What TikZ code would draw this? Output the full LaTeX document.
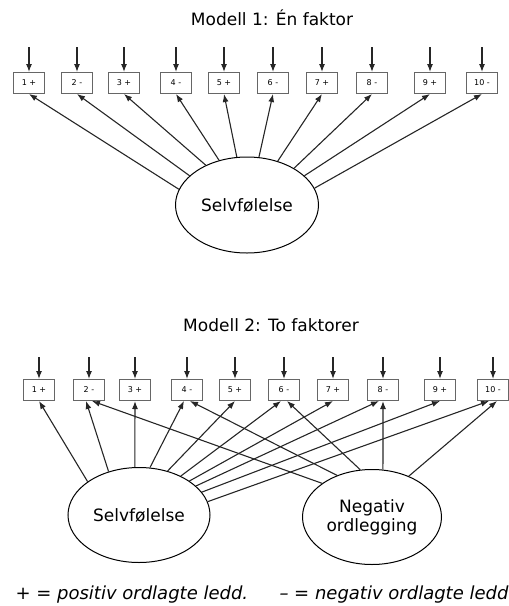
\documentclass[tikz,border=0pt]{standalone}
\usepackage{fontspec}
\setmainfont{DejaVu Sans}
\usetikzlibrary{arrows.meta,shapes.geometric}

\begin{document}
\begin{tikzpicture}[x=1pt,y=-1pt,
		item/.style={rectangle, draw=black!60, line width=1pt, minimum width=31pt, minimum height=21pt, inner sep=0pt, font=\fontsize{8}{9}\selectfont},
		latent/.style={draw, ellipse, line width=1pt, inner sep=0pt, align=center, font=\fontsize{17}{19}\selectfont},
		load/.style={-{Latex[length=8pt,width=6pt]}, line width=1.1pt, draw=black!85},
		heading/.style={font=\fontsize{17}{19}\selectfont}]
			\useasboundingbox (0,0) rectangle (509,606);

			% modell 1
			\node[heading] (t1) at (272,18) {Modell 1: Én faktor};

			\node[item] (a1) at (29,83) {1 +};
			\node[item] (a2) at (77,83) {2 -};
			\node[item] (a3) at (124,83) {3 +};
			\node[item] (a4) at (176,83) {4 -};
			\node[item] (a5) at (224,83) {5 +};
			\node[item] (a6) at (273,83) {6 -};
			\node[item] (a7) at (322,83) {7 +};
			\node[item] (a8) at (372,83) {8 -};
			\node[item] (a9) at (430,83) {9 +};
			\node[item] (a10) at (482,83) {10 -};

			\node[latent, minimum width=143pt, minimum height=96pt] (self1) at (247,205) {Selvfølelse};

			% error arrows
			\coordinate (ea1) at (29,47);
			\coordinate (ea2) at (77,47);
			\coordinate (ea3) at (124,47);
			\coordinate (ea4) at (176,47);
			\coordinate (ea5) at (224,47);
			\coordinate (ea6) at (273,47);
			\coordinate (ea7) at (322,47);
			\coordinate (ea8) at (372,47);
			\coordinate (ea9) at (430,47);
			\coordinate (ea10) at (482,47);
			\draw[load] (ea1) -- (a1);
			\draw[load] (ea2) -- (a2);
			\draw[load] (ea3) -- (a3);
			\draw[load] (ea4) -- (a4);
			\draw[load] (ea5) -- (a5);
			\draw[load] (ea6) -- (a6);
			\draw[load] (ea7) -- (a7);
			\draw[load] (ea8) -- (a8);
			\draw[load] (ea9) -- (a9);
			\draw[load] (ea10) -- (a10);

			% loadings
			\draw[load] (self1.167) -- (a1.south);
			\draw[load] (self1.153) -- (a2.south);
			\draw[load] (self1.136) -- (a3.south);
			\draw[load] (self1.122) -- (a4.south);
			\draw[load] (self1.102) -- (a5.south);
			\draw[load] (self1.76) -- (a6.south);
			\draw[load] (self1.55) -- (a7.south);
			\draw[load] (self1.38) -- (a8.south);
			\draw[load] (self1.27) -- (a9.south);
			\draw[load] (self1.14) -- (a10.south);

			% modell 2
			\node[heading] (t2) at (271,325) {Modell 2: To faktorer};

			\node[item] (b1) at (39,390) {1 +};
			\node[item] (b2) at (89,390) {2 -};
			\node[item] (b3) at (135,390) {3 +};
			\node[item] (b4) at (187,390) {4 -};
			\node[item] (b5) at (235,390) {5 +};
			\node[item] (b6) at (284,390) {6 -};
			\node[item] (b7) at (333,390) {7 +};
			\node[item] (b8) at (383,390) {8 -};
			\node[item] (b9) at (440,390) {9 +};
			\node[item] (b10) at (493,390) {10 -};

			\node[latent, minimum width=142pt, minimum height=95pt] (self2) at (139,515) {Selvfølelse};
			\node[latent, minimum width=139pt, minimum height=95pt] (neg) at (372,517) {Negativ\\ordlegging};

			% error arrows
			\coordinate (eb1) at (39,357);
			\coordinate (eb2) at (89,357);
			\coordinate (eb3) at (135,357);
			\coordinate (eb4) at (187,357);
			\coordinate (eb5) at (235,357);
			\coordinate (eb6) at (284,357);
			\coordinate (eb7) at (333,357);
			\coordinate (eb8) at (383,357);
			\coordinate (eb9) at (440,357);
			\coordinate (eb10) at (493,357);
			\draw[load] (eb1) -- (b1);
			\draw[load] (eb2) -- (b2);
			\draw[load] (eb3) -- (b3);
			\draw[load] (eb4) -- (b4);
			\draw[load] (eb5) -- (b5);
			\draw[load] (eb6) -- (b6);
			\draw[load] (eb7) -- (b7);
			\draw[load] (eb8) -- (b8);
			\draw[load] (eb9) -- (b9);
			\draw[load] (eb10) -- (b10);

			% loadings on selvfolelse
			\draw[load] (self2.147) -- (b1.south);
			\draw[load] (self2.125) -- ([xshift=-3pt]b2.south);
			\draw[load] (self2.95) -- (b3.south);
			\draw[load] (self2.77) -- ([xshift=-3pt]b4.south);
			\draw[load] (self2.57) -- (b5.south);
			\draw[load] (self2.43) -- ([xshift=-3pt]b6.south);
			\draw[load] (self2.34) -- (b7.south);
			\draw[load] (self2.27) -- ([xshift=-4pt]b8.south);
			\draw[load] (self2.20) -- (b9.south);
			\draw[load] (self2.11) -- ([xshift=-4pt]b10.south);

			% loadings on negativ ordlegging
			\draw[load] (neg.146) -- ([xshift=3pt]b2.south);
			\draw[load] (neg.130) -- ([xshift=3pt]b4.south);
			\draw[load] (neg.104) -- ([xshift=3pt]b6.south);
			\draw[load] (neg.77) -- (b8.south);
			\draw[load] (neg.48) -- ([xshift=4pt]b10.south);

			% legend
			\node[heading, font=\fontsize{18}{20}\selectfont, anchor=west] (plus) at (12,595) {\itshape + = positiv ordlagte ledd.};
			\node[heading, font=\fontsize{18}{20}\selectfont, anchor=west] (minus) at (276,595) {\itshape – = negativ ordlagte ledd};

		\end{tikzpicture}
\end{document}
